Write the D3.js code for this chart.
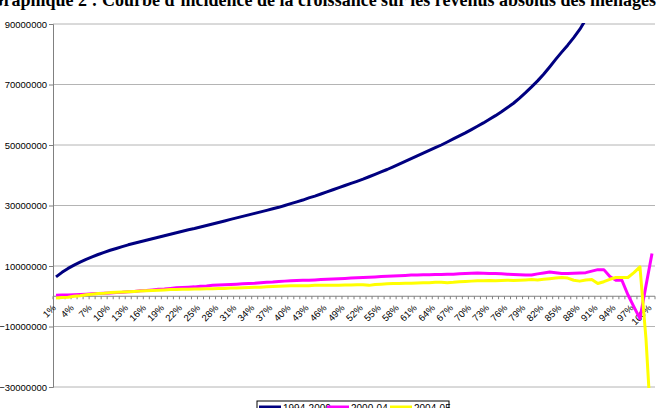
<!DOCTYPE html>
<html>
<head>
<meta charset="utf-8">
<script src="https://cdn.jsdelivr.net/npm/d3@7"></script>
<style>
  body { margin: 0; background: #fff; }
  text { font-family: "Liberation Sans", Arial, sans-serif; }
</style>
</head>
<body>
<script>
// centiles 1% .. 100%
const categories = d3.range(1, 101).map(d => d + '%');
const yTicks = [-30000000, -10000000, 10000000, 30000000, 50000000, 70000000, 90000000];
const seriesNames = ['1994-2000', '2000-04', '2004-05'];

// values, in millions
const s1994 = [
  6.4, 7.9, 9.2, 10.3, 11.3, 12.2, 13.0, 13.8, 14.5, 15.2,
  15.8, 16.4, 17.0, 17.5, 18.0, 18.5, 19.0, 19.5, 20.0, 20.5,
  21.0, 21.5, 22.0, 22.4, 22.9, 23.4, 23.9, 24.4, 24.9, 25.4,
  25.9, 26.4, 26.9, 27.4, 27.9, 28.4, 28.9, 29.4, 30.0, 30.6,
  31.2, 31.8, 32.5, 33.1, 33.8, 34.5, 35.2, 35.9, 36.6, 37.3,
  38.0, 38.7, 39.5, 40.3, 41.1, 41.9, 42.8, 43.7, 44.6, 45.5,
  46.4, 47.3, 48.2, 49.1, 50.0, 51.0, 52.0, 53.0, 54.0, 55.1,
  56.2, 57.3, 58.5, 59.7, 61.0, 62.4, 63.8, 65.5, 67.3, 69.2,
  71.2, 73.4, 75.8, 78.3, 80.7, 83.0, 85.5, 88.2, 91.5, 95,
  99, 104, 110, 117, 125, 136, 150, 170, 200, 260
];
const s2000 = [
  0.3, 0.4, 0.4, 0.5, 0.6, 0.7, 0.8, 0.9, 1.0, 1.1,
  1.2, 1.3, 1.5, 1.6, 1.8, 1.9, 2.1, 2.3, 2.4, 2.6,
  2.8, 2.9, 3.0, 3.1, 3.3, 3.4, 3.6, 3.7, 3.8, 3.9,
  4.0, 4.1, 4.2, 4.3, 4.5, 4.6, 4.7, 4.9, 5.0, 5.1,
  5.2, 5.3, 5.3, 5.4, 5.5, 5.6, 5.7, 5.8, 5.9, 6.0,
  6.1, 6.2, 6.3, 6.4, 6.5, 6.6, 6.7, 6.8, 6.9, 7.0,
  7.0, 7.1, 7.1, 7.2, 7.2, 7.3, 7.3, 7.4, 7.5, 7.6,
  7.7, 7.6, 7.5, 7.5, 7.4, 7.3, 7.2, 7.1, 7.0, 7.0,
  7.4, 7.7, 8.0, 7.8, 7.5, 7.5, 7.6, 7.7, 7.8, 8.3,
  8.8, 8.8, 6.5, 5.3, 5.3, 0.5, -3.5, -7.4, 3.5, 14.1
];
const s2004 = [
  -0.6, -0.4, -0.3, 0.0, 0.2, 0.5, 0.7, 0.9, 1.0, 1.2,
  1.3, 1.4, 1.5, 1.6, 1.7, 1.8, 1.9, 2.0, 2.1, 2.2,
  2.2, 2.3, 2.3, 2.4, 2.4, 2.5, 2.5, 2.6, 2.6, 2.7,
  2.7, 2.8, 2.9, 3.0, 3.0, 3.1, 3.2, 3.3, 3.4, 3.5,
  3.5, 3.5, 3.5, 3.6, 3.6, 3.6, 3.6, 3.6, 3.7, 3.7,
  3.8, 3.8, 3.6, 3.9, 4.0, 4.1, 4.2, 4.2, 4.3, 4.3,
  4.4, 4.5, 4.5, 4.6, 4.6, 4.5, 4.6, 4.8, 4.9, 5.0,
  5.1, 5.1, 5.2, 5.1, 5.2, 5.3, 5.2, 5.3, 5.4, 5.5,
  5.4, 5.6, 5.8, 6.0, 6.2, 6.0, 5.3, 5.0, 5.4, 5.5,
  4.2, 4.8, 5.6, 6.2, 6.2, 6.2, 7.8, 9.7, -14, -48
];
const seriesColors = ['#000080', '#ff00ff', '#ffff00'];

const width = 666, height = 408;
const plotLeft = 53, plotRight = 655, plotTop = 24, plotBottom = 387;

const svg = d3.select('body').append('svg')
    .attr('width', width)
    .attr('height', height);

// titre (coupé en haut comme dans l'original)
svg.append('text')
    .attr('x', 656)
    .attr('y', 6)
    .attr('text-anchor', 'end')
    .style('font-family', '"Liberation Serif", "Times New Roman", serif')
    .style('font-weight', 'bold')
    .style('font-size', '18px')
    .text('Graphique 2 : Courbe d\u2019incidence de la croissance sur les revenus absolus des ménages');

const x = d3.scaleBand().domain(categories).range([plotLeft, plotRight]).padding(0);
const y = d3.scaleLinear().domain([-30000000, 90000000]).range([plotBottom, plotTop]);

// grille
svg.append('g').selectAll('line').data(yTicks).enter()
    .append('line')
    .attr('x1', plotLeft).attr('x2', plotRight)
    .attr('y1', d => y(d)).attr('y2', d => y(d))
    .attr('stroke', '#b4b4b4')
    .attr('stroke-width', 1);

// axe vertical
const yAxis = svg.append('g')
    .attr('transform', `translate(${plotLeft},0)`)
    .call(d3.axisLeft(y).tickValues(yTicks).tickFormat(d3.format('d')).tickSize(4).tickPadding(2));
yAxis.select('.domain').attr('stroke', '#808080');
yAxis.selectAll('.tick line').attr('stroke', '#808080');
yAxis.selectAll('.tick text')
    .style('font-family', '"Liberation Sans", Arial, sans-serif')
    .style('font-size', '9.5px')
    .attr('fill', '#000');

// axe horizontal (à zéro), graduations entre catégories
const y0 = y(0);
const xAxis = svg.append('g');
xAxis.append('line')
    .attr('x1', plotLeft).attr('x2', plotRight)
    .attr('y1', y0).attr('y2', y0)
    .attr('stroke', '#808080');
xAxis.selectAll('line.tk').data(categories.concat(['end'])).enter()
    .append('line')
    .attr('class', 'tk')
    .attr('x1', (d, i) => plotLeft + i * x.step())
    .attr('x2', (d, i) => plotLeft + i * x.step())
    .attr('y1', y0).attr('y2', y0 + 3)
    .attr('stroke', '#808080');
xAxis.selectAll('text').data(categories.filter((d, i) => i % 3 === 0)).enter()
    .append('text')
    .attr('transform', d => `translate(${x(d) + x.bandwidth() / 2 - 2},${y0 + 10}) rotate(-45)`)
    .attr('text-anchor', 'end')
    .attr('dy', '0.35em')
    .style('font-size', '9.5px')
    .text(d => d);

// courbes
svg.append('clipPath').attr('id', 'plot')
    .append('rect')
    .attr('x', plotLeft).attr('y', plotTop - 1)
    .attr('width', plotRight - plotLeft).attr('height', plotBottom - plotTop + 2);

const line = d3.line()
    .x((d, i) => x(categories[i]) + x.bandwidth() / 2)
    .y(d => y(d * 1e6));

const series = [s1994, s2000, s2004];
svg.append('g').attr('clip-path', 'url(#plot)')
    .selectAll('path').data(series).enter()
    .append('path')
    .attr('fill', 'none')
    .attr('stroke', (d, i) => seriesColors[i])
    .attr('stroke-width', 3)
    .attr('stroke-linejoin', 'round')
    .attr('d', line);

// légende (coupée en bas)
const legend = svg.append('g').attr('transform', 'translate(257,401)');
legend.append('rect')
    .attr('width', 192).attr('height', 22)
    .attr('fill', '#fff')
    .attr('stroke', '#000')
    .attr('stroke-width', 1);
const legendX = [2, 70, 133];
seriesNames.forEach((name, i) => {
    legend.append('line')
        .attr('x1', legendX[i]).attr('x2', legendX[i] + 22)
        .attr('y1', 6).attr('y2', 6)
        .attr('stroke', seriesColors[i])
        .attr('stroke-width', 3);
    legend.append('text')
        .attr('x', legendX[i] + 24)
        .attr('y', 11)
        .style('font-size', '10px')
        .text(name);
});
</script>
</body>
</html>
